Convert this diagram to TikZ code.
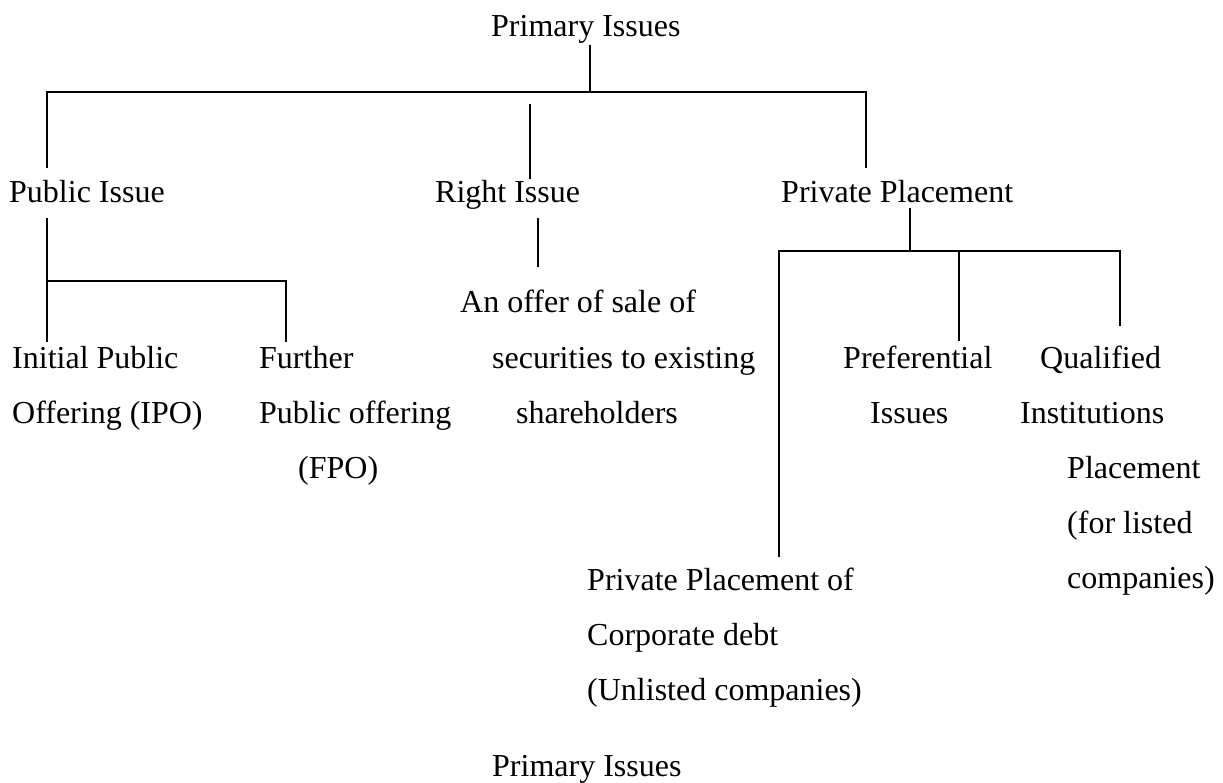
\documentclass[tikz,border=0pt]{standalone}
\usepackage{fontspec}
\setmainfont{Liberation Serif}
\begin{document}
\begin{tikzpicture}[x=1pt,y=-1pt,
  lbl/.style={anchor=base west,inner sep=0pt,font=\fontsize{32}{38}\selectfont},
  branch/.style={line width=1.6pt}]
\useasboundingbox (0,0) rectangle (1223,783);
\fill[white] (0,0) rectangle (1223,783);

% labels, one node per printed line
\node[lbl] (root)  at (491,37)  {Primary Issues};
\node[lbl] (pub)   at (9,203)   {Public Issue};
\node[lbl] (right) at (435,203) {Right Issue};
\node[lbl] (priv)  at (781,203) {Private Placement};

\node[lbl] (ipo1) at (12,368)  {Initial Public};
\node[lbl] (ipo2) at (12,423)  {Offering (IPO)};
\node[lbl] (fpo1) at (259,368) {Further};
\node[lbl] (fpo2) at (259,423) {Public offering};
\node[lbl] (fpo3) at (298,478) {(FPO)};

\node[lbl] (ro1) at (460,313) {An offer of sale of};
\node[lbl] (ro2) at (492,368) {securities to existing};
\node[lbl] (ro3) at (516,423) {shareholders};

\node[lbl] (pref1) at (843,368) {Preferential};
\node[lbl] (pref2) at (870,423) {Issues};

\node[lbl] (qip1) at (1040,368) {Qualified};
\node[lbl] (qip2) at (1020,423) {Institutions};
\node[lbl] (qip3) at (1067,478) {Placement};
\node[lbl] (qip4) at (1067,533) {(for listed};
\node[lbl] (qip5) at (1067,588) {companies)};

\node[lbl] (debt1) at (587,590) {Private Placement of};
\node[lbl] (debt2) at (587,645) {Corporate debt};
\node[lbl] (debt3) at (587,700) {(Unlisted companies)};

\node[lbl] (caption) at (492,776) {Primary Issues};

% junction points of the tree
\coordinate (rootStem) at (590,45);
\coordinate (rootBar)  at (590,92);
\coordinate (barL)     at (47,92);
\coordinate (barR)     at (866,92);
\coordinate (pubTop)   at (47,168);
\coordinate (privTop)  at (866,168);
\coordinate (rightA)   at (530,104);
\coordinate (rightB)   at (530,179);

\coordinate (pubStem)  at (47,218);
\coordinate (pubBar)   at (47,281);
\coordinate (ipoTop)   at (47,342);
\coordinate (fpoBar)   at (286,281);
\coordinate (fpoTop)   at (286,342);

\coordinate (roA) at (538,218);
\coordinate (roB) at (538,267);

\coordinate (privStem) at (910,208);
\coordinate (privBar)  at (910,251);
\coordinate (debtBar)  at (779,251);
\coordinate (debtTop)  at (779,557);
\coordinate (prefBar)  at (959,251);
\coordinate (prefTop)  at (959,341);
\coordinate (qipBar)   at (1120,251);
\coordinate (qipTop)   at (1120,326);

% connectors
\draw[branch] (rootStem) -- (rootBar);
\draw[branch] (pubTop) -- (barL) -- (barR) -- (privTop);
\draw[branch] (rightA) -- (rightB);

\draw[branch] (pubStem) -- (ipoTop);
\draw[branch] (pubBar) -- (fpoBar) -- (fpoTop);

\draw[branch] (roA) -- (roB);

\draw[branch] (privStem) -- (privBar);
\draw[branch] (debtTop) -- (debtBar) -- (qipBar) -- (qipTop);
\draw[branch] (prefBar) -- (prefTop);
\end{tikzpicture}
\end{document}
